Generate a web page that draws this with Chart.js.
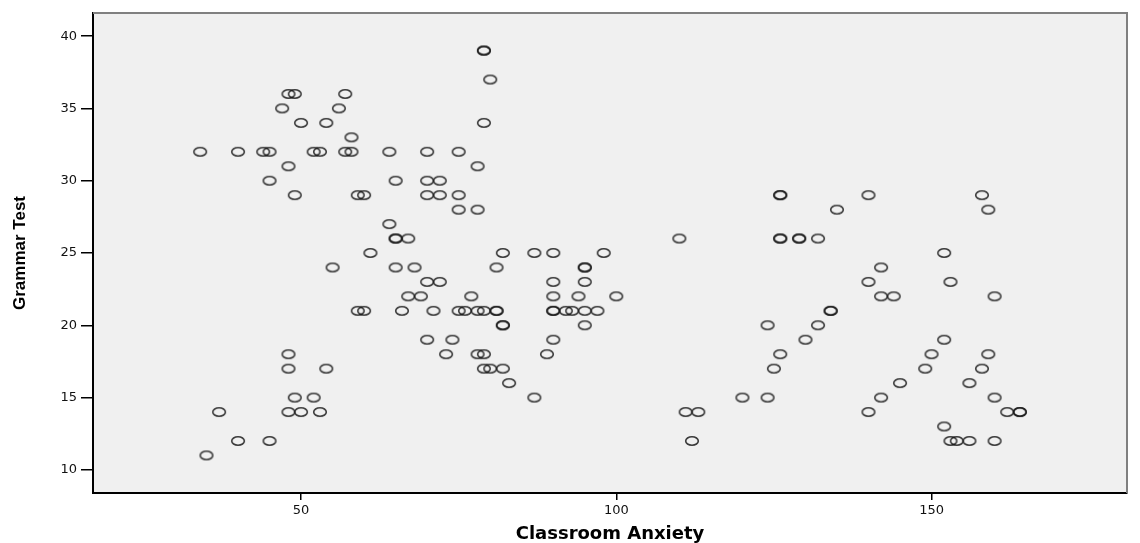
<!DOCTYPE html>
<html>
<head>
<meta charset="utf-8">
<script src="https://cdn.jsdelivr.net/npm/chart.js@4.4.1/dist/chart.umd.min.js"></script>
<style>
    body { margin: 0; background: #fff; }
    #wrap { width: 1140px; height: 543px; }
</style>
</head>
<body>
<div id="wrap"><canvas id="myChart" width="1140" height="543"></canvas></div>
<script>
// one entry per student (grammar score)
var anxiety = [
    79, 79,                                                          // 39
    80,                                                              // 37
    48, 49, 57,                                                      // 36
    47, 56,                                                          // 35
    50, 54, 79,                                                      // 34
    58,                                                              // 33
    34, 40, 44, 45, 52, 53, 57, 58, 64, 70, 75,                      // 32
    48, 78,                                                          // 31
    45, 65, 70, 72,                                                  // 30
    49, 59, 60, 70, 72, 75, 126, 126, 140, 158,                      // 29
    75, 78, 135, 159,                                                // 28
    64,                                                              // 27
    65, 65, 67, 110, 126, 126, 129, 129, 132,                        // 26
    61, 82, 87, 90, 98, 152,                                         // 25
    55, 65, 68, 81, 95, 95, 142,                                     // 24
    70, 72, 90, 95, 140, 153,                                        // 23
    67, 69, 77, 90, 94, 100, 142, 144, 160,                          // 22
    59, 60, 66, 71, 75, 76, 78, 79, 81, 81, 90, 90, 92, 93, 95, 97, 134, 134, // 21
    82, 82, 95, 124, 132,                                            // 20
    70, 74, 90, 130, 152,                                            // 19
    48, 73, 78, 79, 89, 126, 150, 159,                               // 18
    48, 54, 79, 80, 82, 125, 149, 158,                               // 17
    83, 145, 156,                                                    // 16
    49, 52, 87, 120, 124, 142, 160,                                  // 15
    37, 48, 50, 53, 111, 113, 140, 162, 164, 164,                    // 14
    152,                                                             // 13
    40, 45, 112, 153, 154, 156, 160,                                 // 12
    35                                                               // 11
];
var grammar = [
    39, 39,
    37,
    36, 36, 36,
    35, 35,
    34, 34, 34,
    33,
    32, 32, 32, 32, 32, 32, 32, 32, 32, 32, 32,
    31, 31,
    30, 30, 30, 30,
    29, 29, 29, 29, 29, 29, 29, 29, 29, 29,
    28, 28, 28, 28,
    27,
    26, 26, 26, 26, 26, 26, 26, 26, 26,
    25, 25, 25, 25, 25, 25,
    24, 24, 24, 24, 24, 24, 24,
    23, 23, 23, 23, 23, 23,
    22, 22, 22, 22, 22, 22, 22, 22, 22,
    21, 21, 21, 21, 21, 21, 21, 21, 21, 21, 21, 21, 21, 21, 21, 21, 21, 21,
    20, 20, 20, 20, 20,
    19, 19, 19, 19, 19,
    18, 18, 18, 18, 18, 18, 18, 18,
    17, 17, 17, 17, 17, 17, 17, 17,
    16, 16, 16,
    15, 15, 15, 15, 15, 15, 15,
    14, 14, 14, 14, 14, 14, 14, 14, 14, 14,
    13,
    12, 12, 12, 12, 12, 12, 12,
    11
];
var xTicks = [50, 100, 150];
var yTicks = [10, 15, 20, 25, 30, 35, 40];

var points = anxiety.map(function(v, i) {
    return { x: v, y: grammar[i] };
});

// SPSS style hollow ring (a bit wider than tall)
function ringMarker() {
    var c = document.createElement('canvas');
    c.width = 16;
    c.height = 12;
    var g = c.getContext('2d');
    g.strokeStyle = 'rgba(25,25,25,0.85)';
    g.lineWidth = 1.6;
    g.beginPath();
    g.ellipse(8, 6, 6.3, 4.2, 0, 0, Math.PI * 2);
    g.stroke();
    return c;
}

const plotFrame = {
    id: 'plotFrame',
    beforeDraw(chart) {
        const a = chart.chartArea, ctx = chart.ctx;
        ctx.save();
        ctx.fillStyle = '#f0f0f0';
        ctx.fillRect(a.left, a.top, a.right - a.left, a.bottom - a.top);
        ctx.restore();
    },
    afterDraw(chart) {
        const a = chart.chartArea, ctx = chart.ctx;
        ctx.save();
        ctx.strokeStyle = '#808080';
        ctx.lineWidth = 2;
        ctx.beginPath();
        ctx.moveTo(a.left, a.top);
        ctx.lineTo(a.right, a.top);
        ctx.lineTo(a.right, a.bottom);
        ctx.stroke();
        ctx.restore();
    }
};

const ctx = document.getElementById('myChart').getContext('2d');
const myChart = new Chart(ctx, {
    type: 'scatter',
    data: {
        datasets: [{
            data: points,
            pointStyle: ringMarker(),
            pointRadius: 6,
            pointHoverRadius: 6
        }]
    },
    options: {
        responsive: false,
        animation: false,
        devicePixelRatio: 1,
        layout: {
            padding: { top: 13, right: 13, left: 0, bottom: 0 }
        },
        plugins: {
            legend: { display: false },
            tooltip: { enabled: false }
        },
        scales: {
            x: {
                type: 'linear',
                min: 17,
                max: 181,
                afterFit: function(scale) { scale.height = 50; },
                afterBuildTicks: function(scale) {
                    scale.ticks = xTicks.map(function(v) { return { value: v }; });
                },
                ticks: {
                    color: '#111',
                    font: { family: 'DejaVu Sans, sans-serif', size: 13 },
                    padding: 3
                },
                grid: {
                    drawOnChartArea: false,
                    color: '#000',
                    lineWidth: 1.5,
                    tickLength: 7
                },
                border: { color: '#000', width: 2 },
                title: {
                    display: true,
                    text: 'Classroom Anxiety',
                    color: '#000',
                    font: { family: 'DejaVu Sans, sans-serif', size: 18, weight: 'bold', lineHeight: 1.0 },
                    padding: { top: 0, bottom: 0 }
                }
            },
            y: {
                type: 'linear',
                min: 8.4,
                max: 41.6,
                afterFit: function(scale) { scale.width = 93; },
                afterBuildTicks: function(scale) {
                    scale.ticks = yTicks.map(function(v) { return { value: v }; });
                },
                ticks: {
                    color: '#111',
                    font: { family: 'DejaVu Sans, sans-serif', size: 13 },
                    padding: 4
                },
                grid: {
                    drawOnChartArea: false,
                    color: '#000',
                    lineWidth: 1.5,
                    tickLength: 12
                },
                border: { color: '#000', width: 2 },
                title: {
                    display: true,
                    text: 'Grammar Test',
                    color: '#000',
                    font: { family: 'Liberation Sans, Arial, sans-serif', size: 17, weight: 'bold' },
                    padding: { top: 10, bottom: 0 }
                }
            }
        }
    },
    plugins: [plotFrame]
});
</script>
</body>
</html>
